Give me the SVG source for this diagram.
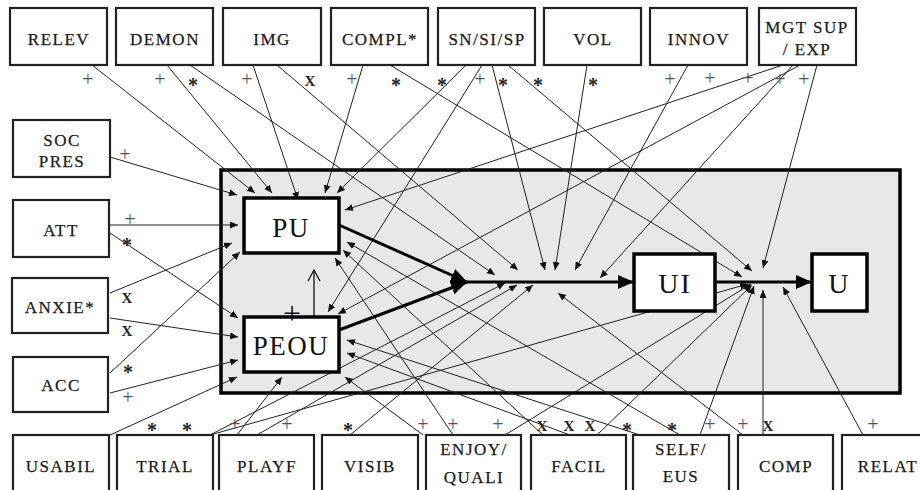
<svg xmlns="http://www.w3.org/2000/svg" width="920" height="490" viewBox="0 0 920 490" font-family="'Liberation Serif','Times New Roman','DejaVu Serif',serif">
<defs>
<marker id="a" markerUnits="userSpaceOnUse" markerWidth="9" markerHeight="8" refX="8" refY="3.5" orient="auto"><path d="M0,0 L8,3.5 L0,7 z" fill="#111"/></marker>
<marker id="b" markerUnits="userSpaceOnUse" markerWidth="18" markerHeight="16" refX="16" refY="7" orient="auto"><path d="M0,0 L16,7 L0,14 z" fill="#000"/></marker>
<marker id="o" markerUnits="userSpaceOnUse" markerWidth="14" markerHeight="14" refX="12" refY="7" orient="auto"><path d="M1,1 L12,7 L1,13" fill="none" stroke="#111" stroke-width="1.3"/></marker>
</defs>
<style>
text{font-family:'Liberation Serif','Times New Roman','DejaVu Serif',serif}
.n rect{fill:#fff;stroke:#222;stroke-width:2.2}
.n text{font-size:17px;letter-spacing:1.5px;fill:#1a1a1a;stroke:#1a1a1a;stroke-width:0.25;text-anchor:middle}
.c rect{fill:#fff;stroke:#000;stroke-width:3.5}
.c text{font-size:27px;letter-spacing:1.5px;fill:#111;text-anchor:middle}
.e{fill:none;stroke:#222;stroke-width:1;marker-end:url(#a)}
.t{fill:none;stroke:#000;stroke-width:3}
.l text{text-anchor:middle}
.p{font-size:20px;fill:#555}
.s{font-size:20px;font-weight:bold;fill:#222}
.x{font-size:15px;font-weight:bold;fill:#222}
</style>
<rect x="221" y="170" width="679" height="223" fill="#e8e8e8" stroke="#000" stroke-width="3.5"/>
<g id="connectors">
<path class="e" d="M92,65 L255,193"/>
<path class="e" d="M167,65 L272,193"/>
<path class="e" d="M190,65 L495,275"/>
<path class="e" d="M253,65 L298,200"/>
<path class="e" d="M277,65 L518,270"/>
<path class="e" d="M363,65 L325,193"/>
<path class="e" d="M390,65 L742,277"/>
<path class="e" d="M466,65 L337,193"/>
<path class="e" d="M482,65 L328,312"/>
<path class="e" d="M492,65 L545,270"/>
<path class="e" d="M508,65 L752,271"/>
<path class="e" d="M587,65 L555,270"/>
<path class="e" d="M688,65 L575,270"/>
<path class="e" d="M783,65 L345,210"/>
<path class="e" d="M800,65 L338,314"/>
<path class="e" d="M793,65 L600,278"/>
<path class="e" d="M817,65 L763,268"/>
<path class="e" d="M110,157 L237,195"/>
<path class="e" d="M110,225 L238,225"/>
<path class="e" d="M110,233 L238,318"/>
<path class="e" d="M110,293 L232,243"/>
<path class="e" d="M110,318 L238,337"/>
<path class="e" d="M110,373 L240,252"/>
<path class="e" d="M110,393 L238,360"/>
<path class="e" d="M110,435 L237,377"/>
<path class="e" d="M210,435 L505,283"/>
<path class="e" d="M210,435 L748,284"/>
<path class="e" d="M237,435 L282,377"/>
<path class="e" d="M257,435 L517,285"/>
<path class="e" d="M350,435 L533,285"/>
<path class="e" d="M423,435 L345,377"/>
<path class="e" d="M453,435 L335,258"/>
<path class="e" d="M505,435 L751,284"/>
<path class="e" d="M543,435 L343,250"/>
<path class="e" d="M570,435 L347,353"/>
<path class="e" d="M597,435 L752,285"/>
<path class="e" d="M640,435 L347,340"/>
<path class="e" d="M680,435 L347,242"/>
<path class="e" d="M700,435 L754,286"/>
<path class="e" d="M743,435 L558,293"/>
<path class="e" d="M763,435 L763,290"/>
<path class="e" d="M863,435 L783,287"/>
<path class="t" d="M339,225 L467,282" marker-end="url(#b)"/>
<path class="t" d="M339,330 L467,282" marker-end="url(#b)"/>
<path class="t" d="M467,282 L634,282" marker-end="url(#b)"/>
<path class="t" d="M715,282 L812,282" marker-end="url(#b)"/>
<path d="M314,357 L314,270" fill="none" stroke="#111" stroke-width="1.3" marker-end="url(#o)"/>
</g>
<g id="PU" class="c"><rect x="244" y="198" width="95" height="55"/><text x="291" y="237">PU</text></g>
<g id="PEOU" class="c"><rect x="244" y="317" width="95" height="55"/><text x="291" y="355">PEOU</text></g>
<g id="UI" class="c"><rect x="634" y="254" width="81" height="57"/><text x="675" y="293" style="font-size:28px;letter-spacing:2px">UI</text></g>
<g id="U" class="c"><rect x="812" y="254" width="55" height="57"/><text x="839" y="293" style="font-size:28px">U</text></g>
<g id="RELEV" class="n"><rect x="10" y="8" width="97" height="57"/><text x="59" y="45">RELEV</text></g>
<g id="DEMON" class="n"><rect x="116" y="8" width="97" height="57"/><text x="165" y="45">DEMON</text></g>
<g id="IMG" class="n"><rect x="223" y="8" width="98" height="57"/><text x="272" y="45">IMG</text></g>
<g id="COMPL" class="n"><rect x="331" y="8" width="97" height="57"/><text x="380" y="45">COMPL*</text></g>
<g id="SNSISP" class="n"><rect x="438" y="8" width="97" height="57"/><text x="487" y="45">SN/SI/SP</text></g>
<g id="VOL" class="n"><rect x="544" y="8" width="97" height="57"/><text x="593" y="45">VOL</text></g>
<g id="INNOV" class="n"><rect x="650" y="8" width="97" height="57"/><text x="699" y="45">INNOV</text></g>
<g id="MGTSUP" class="n"><rect x="759" y="8" width="97" height="57"/><text x="807" y="33">MGT SUP</text><text x="807" y="55">/ EXP</text></g>
<g id="SOCPRES" class="n"><rect x="13" y="120" width="97" height="57"/><text x="62" y="146">SOC</text><text x="62" y="167">PRES</text></g>
<g id="ATT" class="n"><rect x="13" y="200" width="96" height="57"/><text x="61" y="236">ATT</text></g>
<g id="ANXIE" class="n"><rect x="12" y="278" width="96" height="55"/><text x="60" y="313">ANXIE*</text></g>
<g id="ACC" class="n"><rect x="13" y="357" width="95" height="55"/><text x="61" y="391">ACC</text></g>
<g id="USABIL" class="n"><rect x="13" y="435" width="96" height="58"/><text x="61" y="472">USABIL</text></g>
<g id="TRIAL" class="n"><rect x="117" y="435" width="96" height="58"/><text x="165" y="472">TRIAL</text></g>
<g id="PLAYF" class="n"><rect x="219" y="435" width="95" height="58"/><text x="267" y="472">PLAYF</text></g>
<g id="VISIB" class="n"><rect x="322" y="435" width="96" height="58"/><text x="370" y="472">VISIB</text></g>
<g id="ENJOY" class="n"><rect x="426" y="435" width="95" height="58"/><text x="474" y="455">ENJOY/</text><text x="474" y="483">QUALI</text></g>
<g id="FACIL" class="n"><rect x="531" y="435" width="95" height="58"/><text x="579" y="472">FACIL</text></g>
<g id="SELF" class="n"><rect x="633" y="435" width="96" height="58"/><text x="681" y="455">SELF/</text><text x="681" y="482">EUS</text></g>
<g id="COMP" class="n"><rect x="738" y="435" width="95" height="58"/><text x="786" y="472">COMP</text></g>
<g id="RELAT" class="n"><rect x="842" y="435" width="96" height="58"/><text x="888" y="472">RELAT</text></g>
<g class="l">
<text class="p" x="88" y="86">+</text><text class="p" x="160" y="86">+</text><text class="s" x="193" y="92">*</text><text class="p" x="247" y="86">+</text><text class="x" x="310" y="86">X</text><text class="p" x="352" y="86">+</text><text class="s" x="396" y="92">*</text><text class="s" x="442" y="92">*</text><text class="p" x="480" y="86">+</text><text class="s" x="503" y="92">*</text><text class="s" x="538" y="92">*</text><text class="s" x="593" y="92">*</text><text class="p" x="670" y="86">+</text><text class="p" x="710" y="85">+</text><text class="p" x="748" y="85">+</text><text class="p" x="780" y="86">+</text><text class="p" x="804" y="86">+</text>
<text class="p" x="125" y="161">+</text><text class="p" x="130" y="226">+</text><text class="s" x="127" y="252">*</text><text class="x" x="127" y="303">X</text><text class="x" x="127" y="336">X</text><text class="s" x="128" y="379">*</text><text class="p" x="128" y="404">+</text>
<text class="s" x="152" y="437">*</text><text class="s" x="187" y="437">*</text><text class="p" x="235" y="431">+</text><text class="p" x="287" y="431">+</text><text class="s" x="348" y="437">*</text><text class="p" x="423" y="431">+</text><text class="p" x="453" y="431">+</text><text class="p" x="498" y="431">+</text><text class="x" x="542" y="431">X</text><text class="x" x="569" y="431">X</text><text class="x" x="590" y="431">X</text><text class="s" x="627" y="437">*</text><text class="s" x="672" y="437">*</text><text class="p" x="710" y="431">+</text><text class="p" x="743" y="431">+</text><text class="x" x="768" y="431">X</text><text class="p" x="873" y="431">+</text>
<text x="292" y="324" style="font-size:32px;fill:#111">+</text>
</g>
</svg>
